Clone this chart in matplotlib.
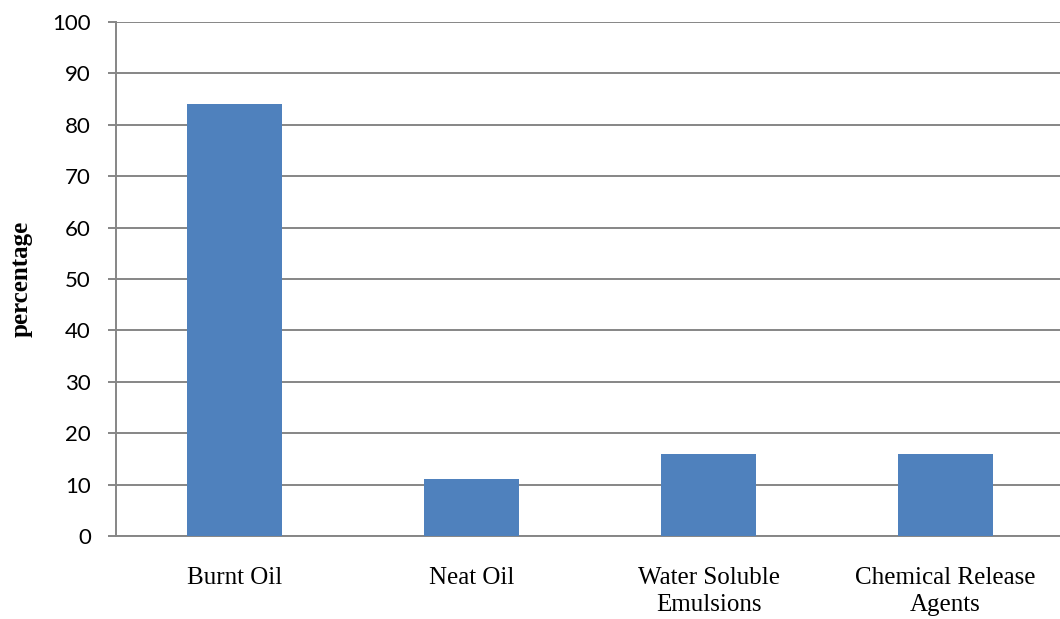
import matplotlib
matplotlib.use('Agg')
import matplotlib.pyplot as plt

# ---- data ----
categories = ['Burnt Oil', 'Neat Oil', 'Water Soluble\nEmulsions', 'Chemical Release\nAgents']
values = [84, 11, 16, 16]
yticks = list(range(0, 101, 10))

fig = plt.figure(figsize=(10.6, 6.19), dpi=100)
ax = fig.add_axes([116/1060, 83/619, 948/1060, 514/619])

x = range(len(categories))
ax.bar(x, values, width=0.4, color='#4F81BD', zorder=3)

ax.set_xlim(-0.5, len(categories) - 0.5)
ax.set_ylim(0, 100)
ax.set_yticks(yticks)
ax.set_xticks(list(x))
ax.set_xticklabels(categories, family='Liberation Serif', fontsize=18, linespacing=1.3)
for lbl in ax.get_yticklabels():
    lbl.set_family('Lato')
    lbl.set_fontsize(16)

# grid and spines
ax.grid(axis='y', color='#868686', linewidth=1.4, zorder=0)
for s in ['top', 'right']:
    ax.spines[s].set_visible(False)
for s in ['left', 'bottom']:
    ax.spines[s].set_color('#868686')
    ax.spines[s].set_linewidth(1.4)
ax.tick_params(axis='y', length=6, width=1.4, color='#868686', pad=12)
ax.tick_params(axis='x', length=0, pad=22)

ax.set_ylabel('percentage', family='Liberation Serif', fontweight='bold', fontsize=18, labelpad=14)

fig.savefig('out.png', dpi=100)
